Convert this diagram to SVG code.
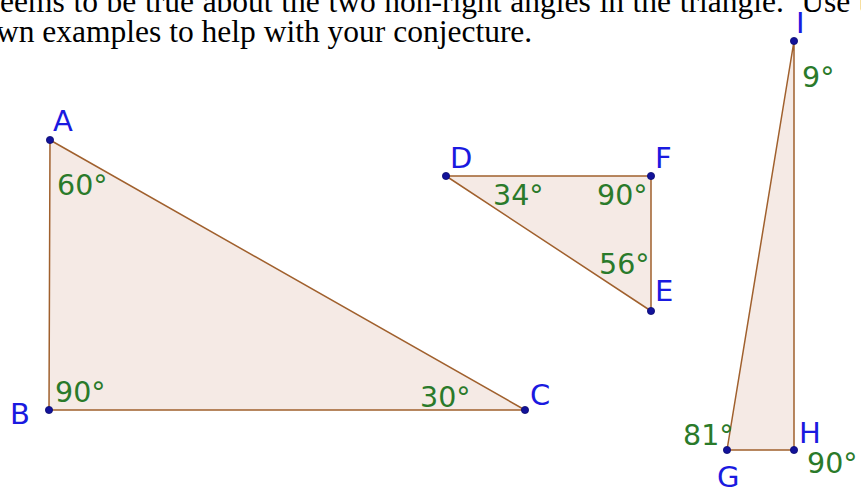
<svg xmlns="http://www.w3.org/2000/svg" width="861" height="489" viewBox="0 0 861 489">
<style>
.q{font-family:"Liberation Serif","Times New Roman",serif;font-size:31.5px;fill:#000}
.tri{fill:#f5eae5;stroke:#a0602d;stroke-width:1.5;stroke-linejoin:round}
.pt{fill:#12129a;stroke:#0a0a70;stroke-width:0.8}
.lb{font-family:"DejaVu Sans",sans-serif;font-size:29px;fill:#1a1ae0}
.ang{font-family:"DejaVu Sans",sans-serif;font-size:28.5px;fill:#2a7a2a}
</style>
<rect width="861" height="489" fill="#fff"/>
<g id="question">
<text class="q" x="0" y="12" word-spacing="0.8">eems to be true about the two non-right angles in the triangle.&#160; Use t</text>
<text class="q" x="-4" y="42">wn examples to help with your conjecture.</text>
</g>
<g id="triangleABC">
<polygon class="tri" points="50,140 49,410 525,410"/>
<circle class="pt" cx="50" cy="140" r="3.6"/>
<circle class="pt" cx="49" cy="410" r="3.6"/>
<circle class="pt" cx="525" cy="410" r="3.6"/>
<text class="lb" x="53" y="131">A</text>
<text class="lb" x="10" y="424">B</text>
<text class="lb" x="530" y="405">C</text>
<text class="ang" x="57" y="195">60°</text>
<text class="ang" x="55" y="402">90°</text>
<text class="ang" x="420" y="407">30°</text>
</g>
<g id="triangleDEF">
<polygon class="tri" points="446,176 651,176 651,311"/>
<circle class="pt" cx="446" cy="176" r="3.6"/>
<circle class="pt" cx="651" cy="176" r="3.6"/>
<circle class="pt" cx="651" cy="311" r="3.6"/>
<text class="lb" x="450" y="168">D</text>
<text class="lb" x="655" y="168">F</text>
<text class="lb" x="655" y="301">E</text>
<text class="ang" x="493" y="205">34°</text>
<text class="ang" x="597" y="205">90°</text>
<text class="ang" x="599" y="274">56°</text>
</g>
<g id="triangleGHI">
<polygon class="tri" points="794,41 727,450 794,450"/>
<circle class="pt" cx="794" cy="41" r="3.6"/>
<circle class="pt" cx="727" cy="450" r="3.6"/>
<circle class="pt" cx="794" cy="450" r="3.6"/>
<text class="lb" x="796" y="33">I</text>
<text class="lb" x="799" y="443">H</text>
<text class="lb" x="717" y="487">G</text>
<text class="ang" x="802" y="87">9°</text>
<text class="ang" x="683" y="445">81°</text>
<text class="ang" x="807" y="473">90°</text>
</g>
</svg>
